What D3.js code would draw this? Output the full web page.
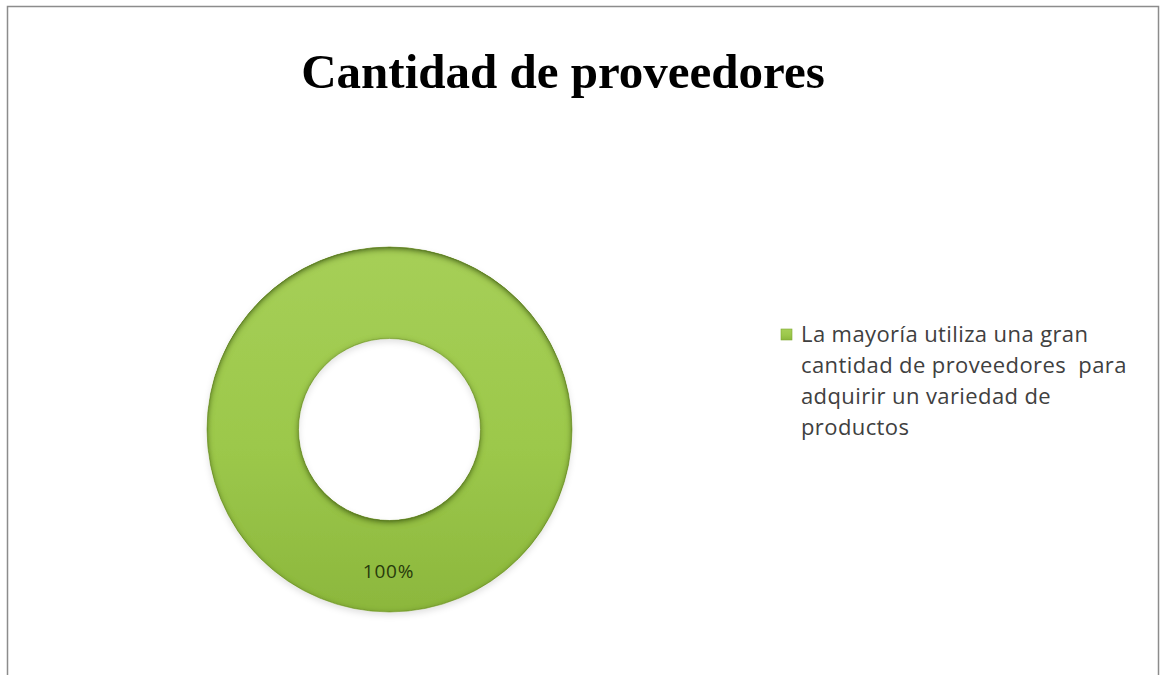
<!DOCTYPE html>
<html>
<head>
<meta charset="utf-8">
<script src="https://cdn.jsdelivr.net/npm/d3@7"></script>
<style>
  html, body { margin: 0; padding: 0; background: #fff; }
  svg { display: block; }
  text { white-space: pre; }
</style>
</head>
<body>
<svg id="chart" width="1163" height="675"></svg>
<script>
// Chart data
const title = "Cantidad de proveedores";
const categories = ["La mayoría utiliza una gran cantidad de proveedores  para adquirir un variedad de productos"];
const legendLines = ["La mayoría utiliza una gran", "cantidad de proveedores  para", "adquirir un variedad de", "productos"];
const values = [100];
const valueLabels = ["100%"];

const svg = d3.select("#chart");

const defs = svg.append("defs");

// Ring shading: lighter top, darker bottom
const grad = defs.append("linearGradient")
  .attr("id", "ringFill").attr("x1", 0).attr("y1", 0).attr("x2", 0).attr("y2", 1);
grad.append("stop").attr("offset", "0%").attr("stop-color", "#a6cf57");
grad.append("stop").attr("offset", "55%").attr("stop-color", "#9cc84b");
grad.append("stop").attr("offset", "100%").attr("stop-color", "#8cb73d");

// Soft bevel: darkened rim just inside every edge of the ring
const bevel = defs.append("filter").attr("id", "bevel")
  .attr("x", "-10%").attr("y", "-10%").attr("width", "120%").attr("height", "125%");
bevel.append("feGaussianBlur").attr("in", "SourceAlpha").attr("stdDeviation", 3).attr("result", "blur");
bevel.append("feOffset").attr("in", "blur").attr("dx", 0).attr("dy", 1.5).attr("result", "blurDown");
bevel.append("feComposite").attr("in", "SourceAlpha").attr("in2", "blurDown").attr("operator", "arithmetic")
  .attr("k2", 1.2).attr("k3", -1.2).attr("result", "edge");
bevel.append("feFlood").attr("flood-color", "#42620d").attr("flood-opacity", 1);
bevel.append("feComposite").attr("in2", "edge").attr("operator", "in").attr("result", "edgeShade");
bevel.append("feGaussianBlur").attr("in", "SourceAlpha").attr("stdDeviation", 3).attr("result", "shBlur");
bevel.append("feOffset").attr("in", "shBlur").attr("dx", 0).attr("dy", 3).attr("result", "shOff");
bevel.append("feFlood").attr("flood-color", "#000").attr("flood-opacity", 0.12);
bevel.append("feComposite").attr("in2", "shOff").attr("operator", "in").attr("result", "shadow");
const merge = bevel.append("feMerge");
merge.append("feMergeNode").attr("in", "shadow");
merge.append("feMergeNode").attr("in", "SourceGraphic");
merge.append("feMergeNode").attr("in", "edgeShade");

// Chart frame
svg.append("rect")
  .attr("x", 7.5).attr("y", 6.5).attr("width", 1151).attr("height", 700)
  .attr("fill", "#fff").attr("stroke", "#8c8c8c").attr("stroke-width", 1.5);

// Title
svg.append("text")
  .attr("x", 563).attr("y", 88)
  .attr("text-anchor", "middle")
  .attr("font-family", "'Liberation Serif', 'DejaVu Serif', serif")
  .attr("font-weight", "bold")
  .attr("font-size", 49)
  .attr("fill", "#000")
  .text(title);

// Doughnut
const cx = 389.5, cy = 429.5;
const outerR = 182.5, innerR = 91;

const pie = d3.pie().sort(null).value(d => d);
const arcs = pie(values);
const arc = d3.arc().innerRadius(innerR).outerRadius(outerR);

const g = svg.append("g").attr("transform", `translate(${cx},${cy})`);

g.selectAll("path.slice")
  .data(arcs)
  .join("path")
  .attr("class", "slice")
  .attr("d", arc)
  .attr("fill", "url(#ringFill)")
  .attr("stroke", "#6f9428")
  .attr("stroke-width", 1)
  .attr("stroke-opacity", 0.6)
  .attr("filter", "url(#bevel)");

g.selectAll("text.value")
  .data(arcs)
  .join("text")
  .attr("class", "value")
  .attr("transform", d => {
    const [x, y] = arc.centroid(d);
    return `translate(${x - 1},${y + 7})`;
  })
  .attr("text-anchor", "middle")
  .attr("dominant-baseline", "middle")
  .attr("font-family", "'Open Sans', 'Noto Sans', sans-serif")
  .attr("font-size", 19)
  .attr("letter-spacing", 0.8)
  .attr("fill", "#283a0c")
  .text((d, i) => valueLabels[i]);

// Legend
const legend = svg.append("g").attr("transform", "translate(781,329)");
legend.selectAll("rect")
  .data(categories)
  .join("rect")
  .attr("x", 0).attr("y", 0).attr("width", 11).attr("height", 11)
  .attr("fill", "url(#ringFill)")
  .attr("stroke", "#7fa832").attr("stroke-width", 0.6);

legend.append("text")
  .attr("y", 13)
  .attr("font-family", "'Open Sans', 'Noto Sans', sans-serif")
  .attr("font-size", 22)
  .attr("letter-spacing", 0.4)
  .attr("fill", "#404040")
  .selectAll("tspan")
  .data(legendLines)
  .join("tspan")
  .attr("x", 20)
  .attr("dy", (d, i) => i === 0 ? 0 : 31)
  .text(d => d);
</script>
</body>
</html>
